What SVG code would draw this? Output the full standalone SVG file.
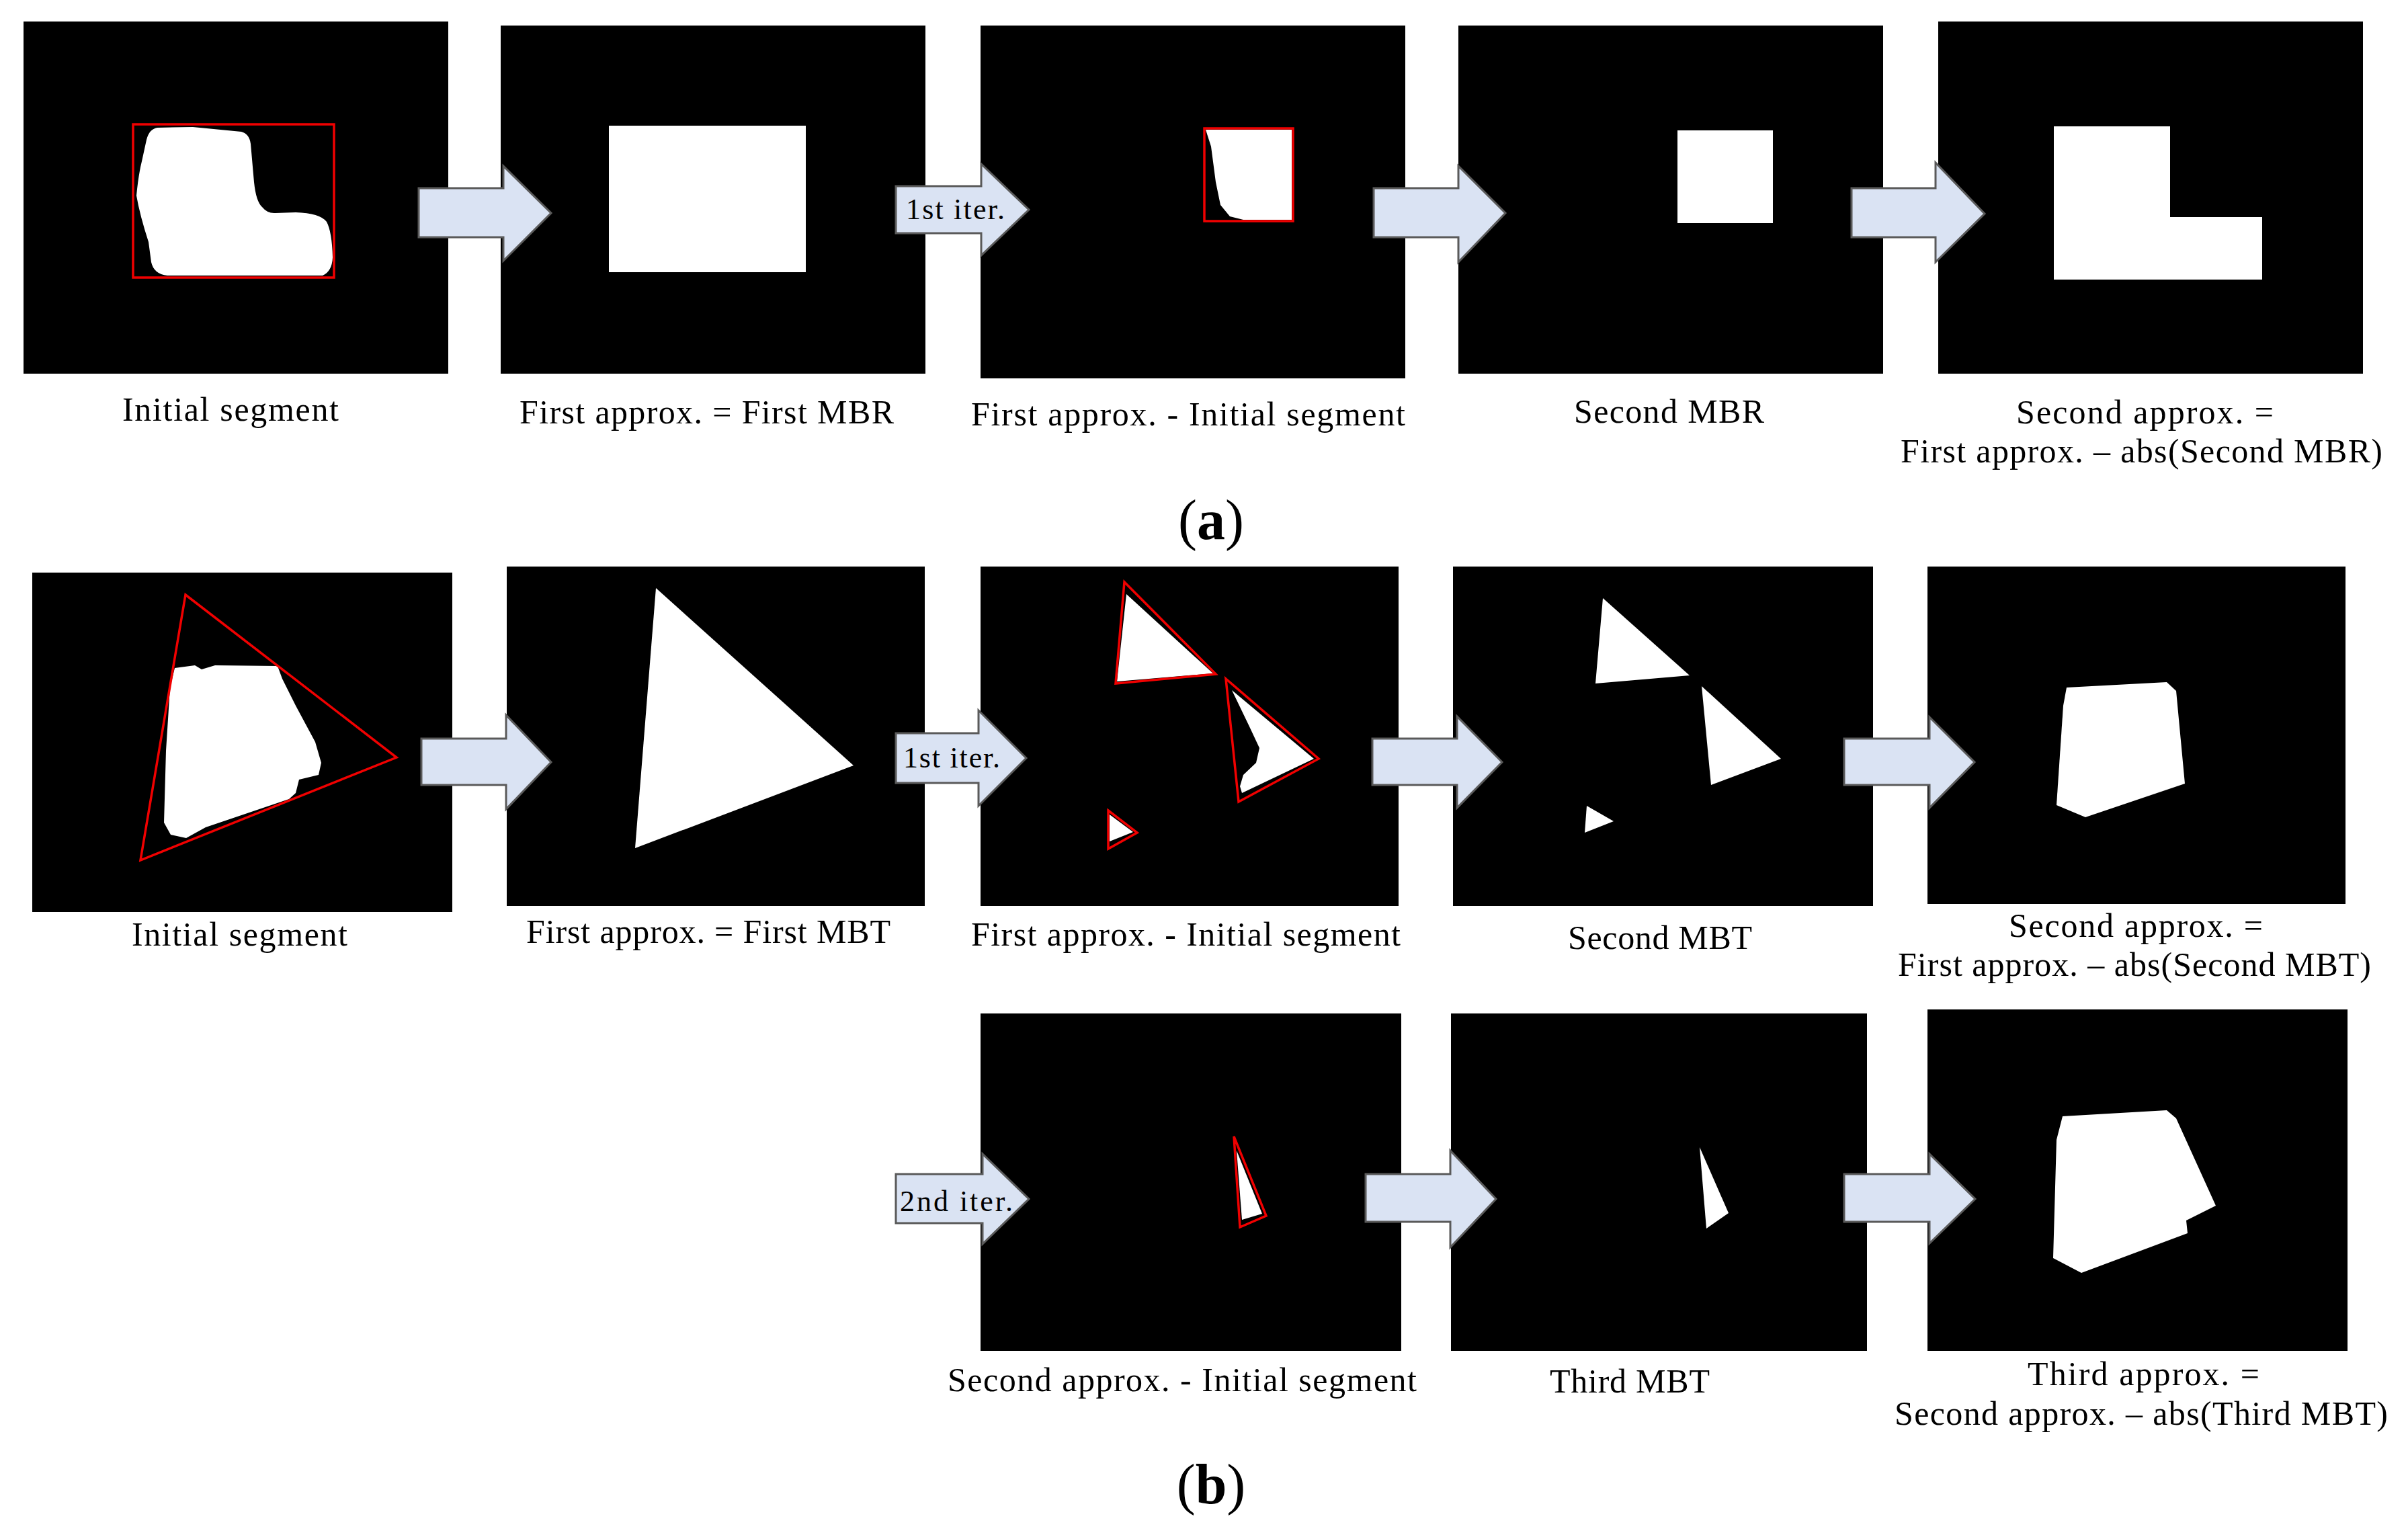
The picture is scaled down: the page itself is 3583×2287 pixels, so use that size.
<svg xmlns="http://www.w3.org/2000/svg" width="3583" height="2287" viewBox="0 0 3583 2287">
<style>
.bg{fill:#fff}
.panel{fill:#000}
.w{fill:#fff}
.red{fill:none;stroke:#f00000;stroke-width:3.5;stroke-linejoin:miter}
.arrow{fill:#dae3f3;stroke:#5a5a5a;stroke-width:3}
.lbl{font-family:"Liberation Serif","Times New Roman",serif;font-size:50px;fill:#000}
.al{font-family:"Liberation Serif","Times New Roman",serif;font-size:44px;fill:#000}
.cap{font-family:"Liberation Serif","Times New Roman",serif;font-size:84px;fill:#000;text-anchor:middle}
</style>
<rect class="bg" x="0" y="0" width="3583" height="2287"/>

<g id="a1">
<rect class="panel" x="35" y="32" width="632" height="524"/>
<path class="w" d="M234,190 L287,189 L359,196 Q371,199 373,214 L378,271 Q381,300 390,308 Q398,318 410,317 L440,316 Q476,317 486,330 Q494,345 495,383 Q494,404 480,410 L249,410 Q229,408 225,390 L221,360 Q208,320 203,291 Q206,260 211,240 L218,208 Q222,192 234,190 Z"/>
<rect class="red" x="198" y="185" width="299" height="228"/>
<text class="lbl" x="182" y="626" textLength="322" lengthAdjust="spacing">Initial segment</text>
</g>

<g id="a2">
<rect class="panel" x="745" y="38" width="632" height="518"/>
<rect class="w" x="906" y="187" width="293" height="218"/>
<text class="lbl" x="773" y="630" textLength="557" lengthAdjust="spacing">First approx. = First MBR</text>
</g>

<g id="a3">
<rect class="panel" x="1459" y="38" width="632" height="525"/>
<polygon class="w" points="1794,193 1922,193 1922,327 1850,327 1830,322 1816,305 1809,271 1802,218"/>
<rect class="red" x="1792" y="191" width="132" height="138"/>
<text class="lbl" x="1445" y="633" textLength="646" lengthAdjust="spacing">First approx. - Initial segment</text>
</g>

<g id="a4">
<rect class="panel" x="2170" y="38" width="632" height="518"/>
<rect class="w" x="2496" y="194" width="142" height="138"/>
<text class="lbl" x="2342" y="629" textLength="283" lengthAdjust="spacing">Second MBR</text>
</g>

<g id="a5">
<rect class="panel" x="2884" y="32" width="632" height="524"/>
<polygon class="w" points="3056,188 3229,188 3229,323 3366,323 3366,416 3056,416"/>
<text class="lbl" x="3000" y="630" textLength="383" lengthAdjust="spacing">Second approx. =</text>
<text class="lbl" x="2828" y="688" textLength="717" lengthAdjust="spacing">First approx. – abs(Second MBR)</text>
</g>

<text id="cap-a" class="cap" x="1802" y="802">(<tspan font-weight="bold">a</tspan>)</text>

<g id="b1">
<rect class="panel" x="48" y="852" width="625" height="505"/>
<polygon class="w" points="260,994 290,990 300,996 320,990 413,991 420,1010 440,1050 469,1104 478,1135 474,1153 445,1160 440,1180 430,1189 306,1231 277,1247 254,1242 244,1224 247,1117 253,1023"/>
<polygon class="red" points="276,885 590,1127 209,1280"/>
<text class="lbl" x="196" y="1407" textLength="321" lengthAdjust="spacing">Initial segment</text>
</g>

<g id="b2">
<rect class="panel" x="754" y="843" width="622" height="505"/>
<polygon class="w" points="976,875 1270,1139 945,1262"/>
<text class="lbl" x="783" y="1403" textLength="542" lengthAdjust="spacing">First approx. = First MBT</text>
</g>

<g id="b3">
<rect class="panel" x="1459" y="843" width="622" height="505"/>
<polygon class="w" points="1676,884 1805,1002 1662,1014"/>
<polygon class="red" points="1673,866 1809,1003 1660,1017"/>
<polygon class="w" points="1833,1027 1955,1129 1848,1180 1845,1170 1850,1153 1869,1135 1874,1113 1859,1081"/>
<polygon class="red" points="1824,1010 1962,1129 1843,1193"/>
<polygon class="w" points="1651,1212 1686,1238 1651,1252"/>
<polygon class="red" points="1649,1206 1692,1239 1649,1263"/>
<text class="lbl" x="1445" y="1407" textLength="639" lengthAdjust="spacing">First approx. - Initial segment</text>
</g>

<g id="b4">
<rect class="panel" x="2162" y="843" width="625" height="505"/>
<polygon class="w" points="2385,890 2514,1005 2374,1017"/>
<polygon class="w" points="2532,1021 2650,1129 2546,1168"/>
<polygon class="w" points="2361,1199 2401,1222 2358,1239"/>
<text class="lbl" x="2333" y="1412" textLength="274" lengthAdjust="spacing">Second MBT</text>
</g>

<g id="b5">
<rect class="panel" x="2868" y="843" width="622" height="502"/>
<polygon class="w" points="3075,1023 3224,1015 3238,1028 3251,1166 3103,1216 3060,1198 3070,1050"/>
<text class="lbl" x="2989" y="1394" textLength="378" lengthAdjust="spacing">Second approx. =</text>
<text class="lbl" x="2824" y="1452" textLength="704" lengthAdjust="spacing">First approx. – abs(Second MBT)</text>
</g>

<g id="c3">
<rect class="panel" x="1459" y="1508" width="626" height="502"/>
<polygon class="w" points="1840,1712 1878,1806 1848,1815"/>
<polygon class="red" points="1836,1691 1884,1809 1845,1826"/>
<text class="lbl" x="1410" y="2070" textLength="698" lengthAdjust="spacing">Second approx. - Initial segment</text>
</g>

<g id="c4">
<rect class="panel" x="2159" y="1508" width="619" height="502"/>
<polygon class="w" points="2529,1707 2572,1805 2539,1828"/>
<text class="lbl" x="2306" y="2072" textLength="238" lengthAdjust="spacing">Third MBT</text>
</g>

<g id="c5">
<rect class="panel" x="2868" y="1502" width="625" height="508"/>
<polygon class="w" points="3069,1661 3224,1652 3238,1664 3297,1794 3253,1816 3255,1835 3097,1894 3055,1872 3060,1696"/>
<text class="lbl" x="3017" y="2061" textLength="345" lengthAdjust="spacing">Third approx. =</text>
<text class="lbl" x="2819" y="2120" textLength="734" lengthAdjust="spacing">Second approx. – abs(Third MBT)</text>
</g>

<text id="cap-b" class="cap" x="1802" y="2237">(<tspan font-weight="bold">b</tspan>)</text>

<g id="connectors">
<path class="arrow" d="M623,280 H749 V247 L820,317 L749,388 V353 H623 Z"/>
<path class="arrow" d="M1333,277 H1460 V244 L1531,312 L1460,380 V347 H1333 Z"/>
<text class="al" x="1348" y="326" textLength="147" lengthAdjust="spacing">1st iter.</text>
<path class="arrow" d="M2044,280 H2170 V247 L2240,317 L2170,390 V353 H2044 Z"/>
<path class="arrow" d="M2755,280 H2880 V242 L2953,318 L2880,390 V353 H2755 Z"/>

<path class="arrow" d="M627,1099 H753 V1064 L820,1134 L753,1204 V1168 H627 Z"/>
<path class="arrow" d="M1333,1091 H1456 V1057 L1527,1128 L1456,1199 V1165 H1333 Z"/>
<text class="al" x="1344" y="1142" textLength="144" lengthAdjust="spacing">1st iter.</text>
<path class="arrow" d="M2042,1099 H2168 V1066 L2235,1134 L2168,1202 V1168 H2042 Z"/>
<path class="arrow" d="M2744,1099 H2871 V1067 L2938,1134 L2871,1202 V1168 H2744 Z"/>

<path class="arrow" d="M1333,1747 H1462 V1717 L1531,1784 L1462,1851 V1820 H1333 Z"/>
<text class="al" x="1339" y="1802" textLength="168" lengthAdjust="spacing">2nd iter.</text>
<path class="arrow" d="M2032,1747 H2158 V1712 L2226,1784 L2158,1856 V1818 H2032 Z"/>
<path class="arrow" d="M2744,1747 H2871 V1717 L2939,1784 L2871,1850 V1818 H2744 Z"/>
</g>
</svg>
